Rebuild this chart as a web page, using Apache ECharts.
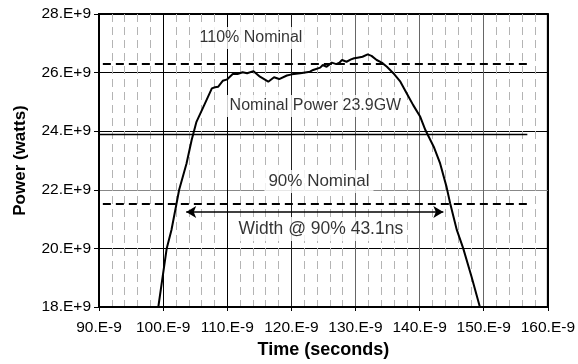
<!DOCTYPE html>
<html>
<head>
<meta charset="utf-8">
<script src="https://cdn.jsdelivr.net/npm/echarts@6/dist/echarts.min.js"></script>
<style>
  html, body { margin: 0; padding: 0; background: #fff; }
  #chart { width: 578px; height: 364px; }
</style>
</head>
<body>
<div id="chart"></div>
<script>
// pulse shape, time in ns, power in GW
const timeNs = [99.25, 100.56, 101.3, 102.1, 102.5, 103.65, 104.45, 105.2, 106.3, 107.6, 108.1, 108.6,
  109.3, 110.0, 110.86, 111.6, 112.4, 113.1, 114.1, 115.1, 116.4, 117.3, 118.1, 119.3, 120.06,
  121.4, 122.9, 123.4, 124.5, 124.9, 125.5, 126.3, 127.0, 127.5, 127.9, 128.6, 129.3, 129.8,
  130.3, 131.1, 131.9, 132.5, 133.3, 134.1, 134.9, 135.9, 137.0, 138.0, 139.0, 140.1, 140.9,
  142.2, 143.2, 144.2, 144.76, 145.8, 146.8, 148.1, 149.4];
const powerGW = [18.0, 20.0, 20.63, 21.54, 22.0, 22.9, 23.7, 24.32, 24.84, 25.46, 25.5, 25.52,
  25.72, 25.77, 25.95, 25.95, 26.01, 25.98, 26.05, 25.86, 25.69, 25.84, 25.78, 25.9, 25.94,
  25.98, 26.03, 26.09, 26.17, 26.26, 26.2, 26.34, 26.29, 26.34, 26.43, 26.37, 26.45, 26.49,
  26.51, 26.54, 26.62, 26.57, 26.43, 26.34, 26.2, 25.98, 25.69, 25.29, 24.89, 24.49, 24.04,
  23.47, 22.9, 22.1, 21.54, 20.63, 20.0, 19.03, 18.0];

// reference lines
const nominal = 23.9;
const nominalSpan = [90, 156.8];
const levelSpan = [90.6, 157.5];
const levels = [26.29, 21.51];          // 110% and 90%
const arrowSpan = [103.6, 143.7];
const arrowLevel = 21.24;

// annotation texts and where they sit (ns, GW)
const noteTexts = ['110% Nominal', 'Nominal Power 23.9GW', '90% Nominal', 'Width @ 90% 43.1ns'];
const noteX = [113.7, 123.75, 124.3, 124.6];
const noteY = [27.18, 24.86, 22.28, 20.66];
const noteSize = [16, 16, 17, 17.5];

const FONT = 'Liberation Sans, Arial, sans-serif';

const chart = echarts.init(document.getElementById('chart'));

const curve = timeNs.map((t, i) => [t, powerGW[i]]);

const dashStyle = { color: '#000', width: 2, type: [8, 5] };

const markData = [
  [{ coord: [nominalSpan[0], nominal], lineStyle: { color: '#000', width: 1.3, type: 'solid' } },
   { coord: [nominalSpan[1], nominal] }],
  [{ coord: [levelSpan[0], levels[0]], lineStyle: dashStyle }, { coord: [levelSpan[1], levels[0]] }],
  [{ coord: [levelSpan[0], levels[1]], lineStyle: dashStyle }, { coord: [levelSpan[1], levels[1]] }],
  [{ coord: [arrowSpan[0], arrowLevel], symbol: 'arrow', lineStyle: { color: '#000', width: 1.5, type: 'solid' } },
   { coord: [arrowSpan[1], arrowLevel], symbol: 'arrow' }]
];

const notes = noteTexts.map((txt, i) => ({
  value: [noteX[i], noteY[i]],
  label: { fontSize: noteSize[i] }
}));

const option = {
  animation: false,
  backgroundColor: '#fff',
  grid: {
    left: 99, top: 14, right: 30, bottom: 57,
    show: true, borderColor: '#000', borderWidth: 2
  },
  xAxis: {
    type: 'value',
    min: 90, max: 160, interval: 10,
    name: 'Time (seconds)',
    nameLocation: 'middle',
    nameGap: 33,
    nameTextStyle: { fontFamily: FONT, fontSize: 18, fontWeight: 'bold', color: '#000' },
    axisLine: { lineStyle: { color: '#000', width: 2 } },
    axisTick: { show: true, length: 4, lineStyle: { color: '#000' } },
    axisLabel: {
      margin: 13,
      fontFamily: FONT, fontSize: 15.5, color: '#000',
      formatter: v => v + '.E-9'
    },
    splitLine: {
      show: true,
      lineStyle: { color: ['#000', '#000', '#000', '#222', '#666', '#666', '#666', '#000'], width: 1 }
    },
    minorTick: { show: false, splitNumber: 5 },
    minorSplitLine: { show: true, lineStyle: { color: '#b4b4b4', width: 1, type: [8, 5] } }
  },
  yAxis: {
    type: 'value',
    min: 18, max: 28, interval: 2,
    name: 'Power (watts)',
    nameLocation: 'middle',
    nameGap: 70,
    nameTextStyle: { fontFamily: FONT, fontSize: 17, fontWeight: 'bold', color: '#000' },
    axisLine: { show: true, lineStyle: { color: '#000', width: 2 } },
    axisTick: { show: true, length: 5, lineStyle: { color: '#000' } },
    axisLabel: {
      margin: 8,
      fontFamily: FONT, fontSize: 15.5, color: '#000',
      formatter: v => v + '.E+9'
    },
    splitLine: {
      show: true,
      lineStyle: { color: ['#000', '#000', '#888', '#000', '#000', '#000'], width: 1 }
    }
  },
  series: [
    {
      type: 'line',
      data: curve,
      showSymbol: false,
      lineStyle: { color: '#000', width: 2 },
      silent: true,
      z: 5,
      markLine: {
        silent: true,
        symbol: ['none', 'none'],
        symbolSize: [9, 10],
        label: { show: false },
        data: markData
      }
    },
    {
      // text notes with white boxes over the grid
      type: 'scatter',
      data: notes,
      symbolSize: 1,
      itemStyle: { color: 'rgba(0,0,0,0)' },
      silent: true,
      z: 10,
      label: {
        show: true,
        position: 'inside',
        fontFamily: FONT,
        color: '#000',
        backgroundColor: '#fff',
        padding: [3, 4],
        formatter: p => noteTexts[p.dataIndex]
      }
    }
  ]
};

chart.setOption(option);
</script>
</body>
</html>
